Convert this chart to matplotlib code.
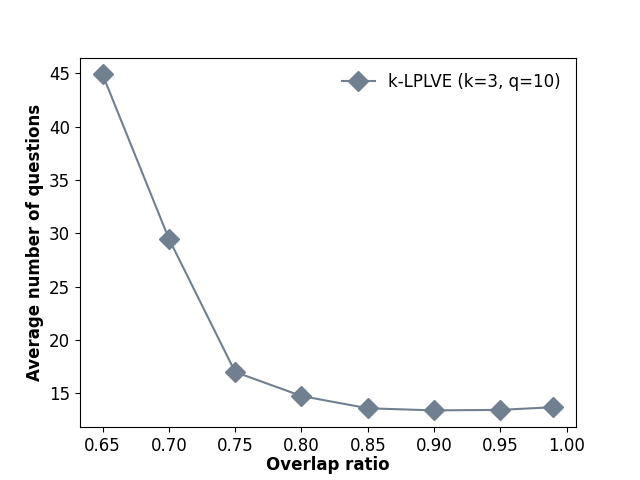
import matplotlib
matplotlib.use("Agg")
import matplotlib.pyplot as plt

overlap = [0.65, 0.70, 0.75, 0.80, 0.85, 0.90, 0.95, 0.99]
avg_questions = [44.9, 29.5, 17.0, 14.75, 13.6, 13.4, 13.45, 13.7]

plt.rcParams['font.size'] = 12

fig = plt.figure(figsize=(6.4, 4.8), dpi=100)
ax = fig.add_subplot(111)
ax.plot(overlap, avg_questions, color='slategray', marker='D', markersize=10,
        label='k-LPLVE (k=3, q=10)')
ax.set_xlabel('Overlap ratio', fontweight='bold', labelpad=1)
ax.set_ylabel('Average number of questions', fontweight='bold')
ax.legend(frameon=False, loc='upper right')
fig.savefig('out.png', dpi=100)
